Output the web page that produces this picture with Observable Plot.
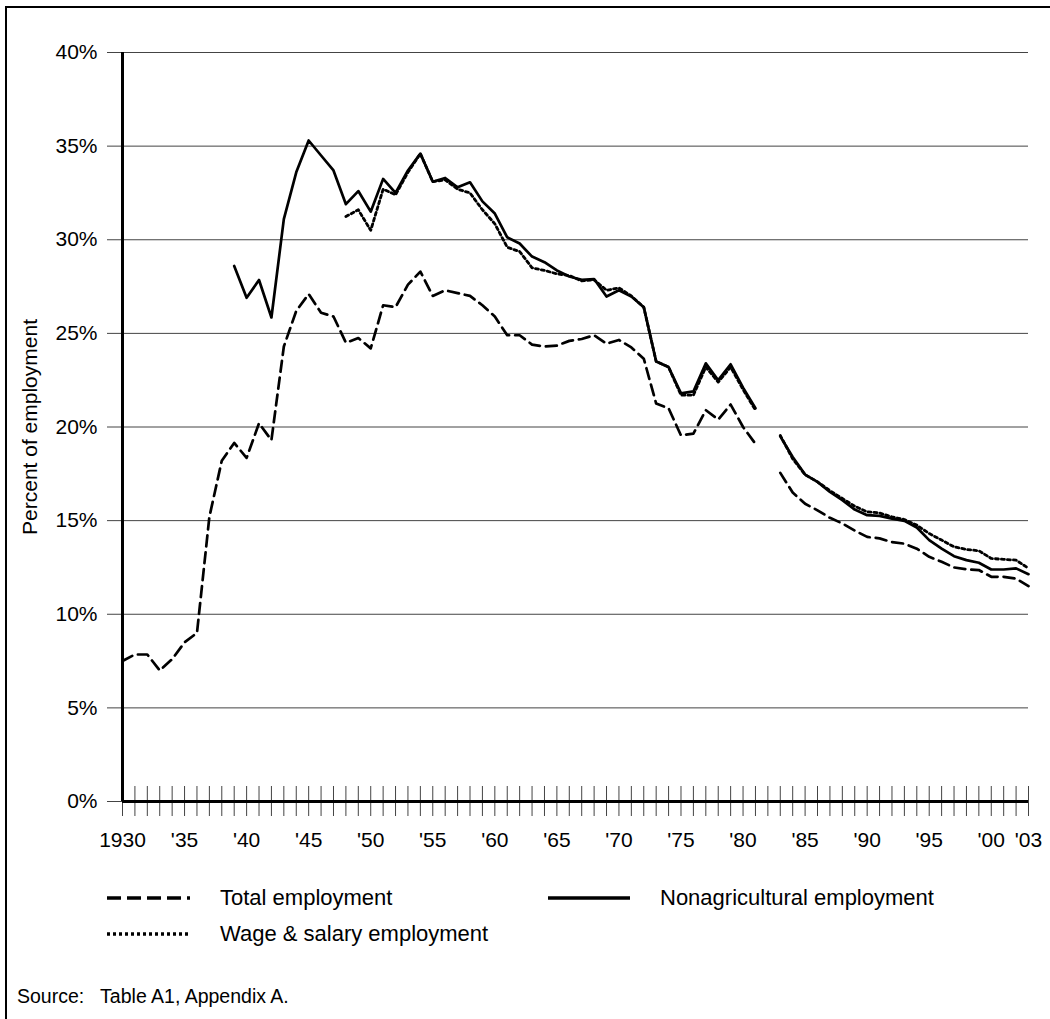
<!DOCTYPE html>
<html><head><meta charset="utf-8">
<script src="https://cdn.jsdelivr.net/npm/d3@7"></script>
<script src="https://cdn.jsdelivr.net/npm/@observablehq/plot@0.6"></script>
<style>
body{margin:0;background:#fff;font-family:"Liberation Sans",Arial,sans-serif;}
#page{position:relative;width:1050px;height:1019px;overflow:hidden;background:#fff;}
#frame{position:absolute;left:5px;top:6px;width:1100px;height:1100px;border-left:2.5px solid #000;border-top:2.5px solid #000;}
#chart{position:absolute;left:0;top:0;}
.leg{position:absolute;display:flex;align-items:center;font-size:22px;color:#000;height:30px;white-space:nowrap;}
.leg svg{display:block;margin-right:30px;}
#source{position:absolute;left:17px;top:985px;font-size:19.5px;white-space:pre;color:#000;}
</style></head>
<body>
<div id="page">
  <div id="frame"></div>
  <div id="chart"></div>
  <div class="leg" style="left:107px;top:883px;"><svg width="83" height="8"><line x1="0" y1="4" x2="83" y2="4" stroke="#000" stroke-width="3.5" stroke-dasharray="14,6"/></svg><span>Total employment</span></div>
  <div class="leg" style="left:548px;top:883px;"><svg width="82" height="8"><line x1="0" y1="4" x2="82" y2="4" stroke="#000" stroke-width="3.5"/></svg><span>Nonagricultural employment</span></div>
  <div class="leg" style="left:107px;top:919px;"><svg width="83" height="8"><line x1="0" y1="4" x2="83" y2="4" stroke="#000" stroke-width="3.5" stroke-dasharray="3,3"/></svg><span>Wage &amp; salary employment</span></div>
  <div id="source">Source:   Table A1, Appendix A.</div>
</div>
<script>
const years = [1930,1931,1932,1933,1934,1935,1936,1937,1938,1939,
1940,1941,1942,1943,1944,1945,1946,1947,1948,1949,
1950,1951,1952,1953,1954,1955,1956,1957,1958,1959,
1960,1961,1962,1963,1964,1965,1966,1967,1968,1969,
1970,1971,1972,1973,1974,1975,1976,1977,1978,1979,
1980,1981,1982,1983,1984,1985,1986,1987,1988,1989,
1990,1991,1992,1993,1994,1995,1996,1997,1998,1999,
2000,2001,2002,2003];

const totalEmployment = [7.5,7.85,7.85,7.0,7.6,8.5,9.0,15.2,18.2,19.15,
18.35,20.2,19.3,24.3,26.2,27.1,26.1,25.9,24.5,24.75,
24.2,26.5,26.4,27.6,28.3,27.0,27.3,27.15,27.0,26.5,
25.9,24.9,24.9,24.4,24.3,24.35,24.6,24.7,24.9,24.45,
24.65,24.25,23.65,21.25,21.0,19.55,19.65,20.9,20.4,21.2,
20.0,19.1,null,17.55,16.5,15.9,15.55,15.15,14.85,14.47,
14.13,14.05,13.85,13.77,13.5,13.07,12.8,12.5,12.4,12.36,
12.0,12.0,11.9,11.5];

const nonagEmployment = [null,null,null,null,null,null,null,null,null,28.6,
26.9,27.85,25.85,31.1,33.6,35.3,34.5,33.7,31.9,32.6,
31.5,33.25,32.5,33.7,34.6,33.1,33.3,32.8,33.07,32.05,
31.4,30.13,29.8,29.1,28.8,28.36,28.04,27.86,27.9,26.97,
27.3,26.97,26.4,23.5,23.2,21.8,21.9,23.4,22.5,23.35,
22.1,21.0,null,19.5,18.4,17.46,17.07,16.53,16.09,15.59,
15.29,15.25,15.11,14.99,14.63,13.96,13.51,13.1,12.89,12.75,
12.39,12.39,12.45,12.14];

const wageEmployment = [null,null,null,null,null,null,null,null,null,null,
null,null,null,null,null,null,null,null,31.24,31.6,
30.5,32.7,32.4,33.6,34.6,33.1,33.2,32.7,32.5,31.6,
30.85,29.6,29.37,28.5,28.36,28.18,28.09,27.8,27.86,27.3,
27.43,27.0,26.4,23.5,23.2,21.7,21.7,23.2,22.4,23.2,
22.0,20.9,null,19.55,18.3,17.45,17.07,16.6,16.18,15.77,
15.47,15.41,15.2,15.06,14.76,14.31,13.96,13.6,13.46,13.39,
12.98,12.93,12.89,12.45];

const yTicks = [0,5,10,15,20,25,30,35,40];
const xLabelYears = [1930,1935,1940,1945,1950,1955,1960,1965,1970,1975,1980,1985,1990,1995,2000,2003];
const xLabels = ["1930","'35","'40","'45","'50","'55","'60","'65","'70","'75","'80","'85","'90","'95","'00","'03"];

const rows = years.map((y, i) => ({year: y, total: totalEmployment[i], nonag: nonagEmployment[i], wage: wageEmployment[i]}));

const chart = Plot.plot({
  width: 1050,
  height: 860,
  marginLeft: 122,
  marginRight: 22,
  marginTop: 52,
  marginBottom: 59,
  style: {fontFamily: '"Liberation Sans", Arial, sans-serif', fontSize: "21px", background: "transparent", color: "#000"},
  x: {domain: [1930, 2003]},
  y: {domain: [0, 40]},
  marks: [
    Plot.gridY(yTicks, {stroke: "#444", strokeOpacity: 1, strokeWidth: 1}),
    Plot.axisY(yTicks, {tickSize: 15, tickPadding: 10, stroke: "#444", tickFormat: d => d + "%",
      label: "Percent of employment", labelAnchor: "center", labelArrow: "none", labelOffset: 100}),
    Plot.ruleX(years, {x: d => d, y1: 0, y2: 0, insetTop: 15, insetBottom: 15, stroke: "#444", strokeWidth: 1}),
    Plot.axisX(xLabelYears, {tickSize: 0, tickPadding: 31, tickFormat: d => xLabels[xLabelYears.indexOf(d)], label: null}),
    Plot.ruleX([1930], {stroke: "#000", strokeWidth: 3}),
    Plot.ruleY([0], {stroke: "#000", strokeWidth: 3}),
    Plot.line(rows, {x: "year", y: "total", stroke: "#000", strokeWidth: 2.7, strokeDasharray: "11,6"}),
    Plot.line(rows, {x: "year", y: "wage", stroke: "#000", strokeWidth: 2.8, strokeDasharray: "3,3"}),
    Plot.line(rows, {x: "year", y: "nonag", stroke: "#000", strokeWidth: 2.7})
  ]
});
document.getElementById("chart").appendChild(chart);
</script>
</body></html>
